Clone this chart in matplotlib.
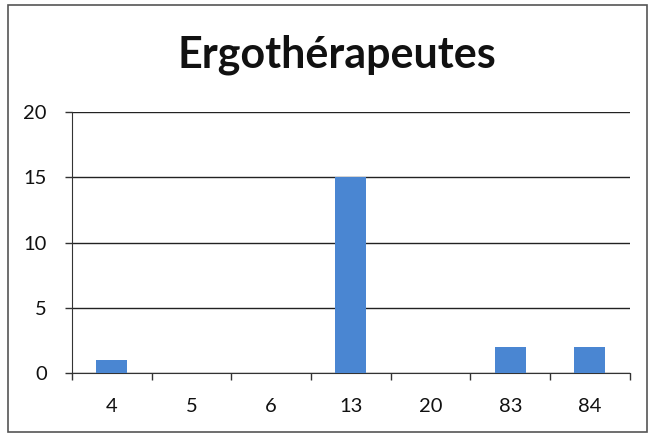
import matplotlib.pyplot as plt
import numpy as np
from matplotlib.patches import Rectangle

categories = ["4", "5", "6", "13", "20", "83", "84"]
values = [1, 0, 0, 15, 0, 2, 2]
y_ticks = [0, 5, 10, 15, 20]

plt.rcParams["font.family"] = ["Lato", "DejaVu Sans"]

fig = plt.figure(figsize=(6.54, 4.38), dpi=100)
ax = fig.add_axes([0.110, 0.148, 0.853, 0.596])

x = np.arange(len(categories))
ax.bar(x, values, width=0.39, color="#4a86d2", zorder=3)

ax.set_xlim(-0.5, len(categories) - 0.5)
ax.set_ylim(0, 20)
ax.set_yticks(y_ticks)
ax.set_yticklabels([str(v) for v in y_ticks], fontsize=14.5, color="#111111")
ax.set_xticks(x)
ax.set_xticklabels(categories, fontsize=14.5, color="#111111")
ax.tick_params(axis="x", length=0, pad=18)
ax.tick_params(axis="y", length=5, width=1, pad=13, color="#333333")

# category boundary ticks under the x axis
ax.set_xticks(np.arange(-0.5, len(categories)), minor=True)
ax.tick_params(axis="x", which="minor", length=5, width=1, color="#333333")

ax.grid(axis="y", color="#222222", linewidth=1, zorder=0)
for side in ["top", "right"]:
    ax.spines[side].set_visible(False)
ax.spines["left"].set_color("#333333")
ax.spines["bottom"].set_color("#333333")

fig.text(0.515, 0.875, "Ergothérapeutes", fontsize=31, fontweight="bold",
         ha="center", va="center", color="#111111")

fig.patches.append(Rectangle((0.012, 0.013), 0.978, 0.975, transform=fig.transFigure,
                             fill=False, edgecolor="#555555", linewidth=1.2))

fig.savefig("out.png", dpi=100)
